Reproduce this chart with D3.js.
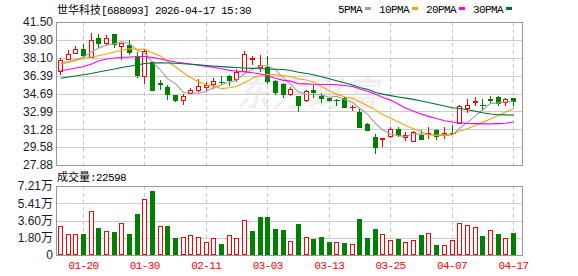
<!DOCTYPE html>
<html><head><meta charset="utf-8">
<script src="https://cdn.jsdelivr.net/npm/d3@7"></script>
<style>body{margin:0;background:#fff}svg{display:block}</style>
</head><body><svg id="c" width="578" height="276"></svg>
<script>
const title1 = "世华科技";
const title2 = "[688093] 2026-04-17 15:30";
const dates = ["01-15","01-16","01-19","01-20","01-21","01-22","01-23","01-26","01-27","01-28","01-29","01-30",
"02-02","02-03","02-04","02-05","02-06","02-09","02-10","02-11","02-12","02-13",
"02-24","02-25","02-26","02-27","03-02","03-03","03-04","03-05","03-06","03-09","03-10","03-11","03-12","03-13",
"03-16","03-17","03-18","03-19","03-20","03-23","03-24","03-25","03-26","03-27","03-30","03-31",
"04-01","04-02","04-03","04-07","04-08","04-09","04-10","04-13","04-14","04-15","04-16","04-17"];
const opens = [36.86,37.95,38.52,38.90,38.14,39.98,39.47,40.36,39.25,39.31,38.26,36.39,37.69,35.70,35.28,34.52,34.07,34.77,35.05,35.30,
35.62,35.82,36.33,36.10,36.86,38.02,37.19,37.19,35.85,35.60,34.67,34.42,34.04,35.05,34.48,34.26,34.10,34.26,33.36,32.90,
31.81,30.55,30.40,30.61,31.34,30.52,30.14,30.77,30.83,31.19,30.74,30.95,31.91,33.31,33.90,33.57,34.12,34.36,33.88,34.26];
const highs = [38.07,38.83,39.21,39.40,40.42,40.36,40.29,40.36,39.53,39.79,38.64,38.96,37.75,36.00,35.53,34.55,34.61,35.21,36.04,35.79,
36.17,36.33,36.48,37.05,38.71,38.23,38.33,38.23,36.00,35.65,35.31,34.45,35.02,35.53,34.74,34.30,34.12,34.33,33.62,33.31,
31.85,30.83,30.45,31.50,31.50,31.00,31.10,31.24,31.47,31.34,31.47,31.66,33.55,34.17,34.33,34.17,34.42,34.48,34.26,34.26];
const lows = [36.55,37.95,38.52,38.26,38.14,39.15,39.28,39.15,37.95,38.42,36.29,35.69,35.05,35.15,34.14,33.98,33.69,34.71,34.93,35.02,
35.21,35.62,35.47,35.85,36.86,37.53,36.80,35.69,34.67,34.33,34.58,32.99,34.02,34.33,33.88,34.00,33.57,33.38,33.12,31.50,
31.20,29.02,29.72,30.52,30.60,30.23,30.14,30.37,30.45,30.39,30.48,30.83,31.91,32.90,33.62,33.15,33.79,33.62,33.62,33.62];
const closes = [37.85,38.45,38.90,38.39,39.76,39.53,39.98,39.45,39.47,38.67,36.48,38.71,35.05,35.64,34.64,34.10,34.42,35.02,35.45,35.50,
35.88,35.79,35.95,36.77,38.45,38.07,37.43,35.91,34.83,34.67,35.12,33.62,34.90,34.80,34.29,34.05,34.08,33.40,33.42,31.50,
31.24,29.60,30.45,31.34,30.71,30.77,31.00,30.39,30.93,30.61,30.90,30.93,33.53,33.62,33.95,33.55,34.10,33.79,34.17,34.00];
const prevClose = 37.20;
const volumes = [30300,21900,21900,21900,46000,28200,25100,24000,33400,21900,43200,58500,66900,30300,30300,17800,18800,20900,18600,13600,
17400,11500,20900,17400,36600,25100,39700,39700,27200,26100,14600,32400,18500,16700,18800,13900,13600,12500,11500,37600,
17800,27200,21900,15700,16700,13600,15700,20900,23000,10400,10100,15700,33400,31300,29300,19900,26100,21900,17800,22598];
const ma5 = [37.60,37.74,37.93,38.14,38.67,39.01,39.31,39.42,39.64,39.42,38.81,38.56,37.68,36.91,36.10,35.63,34.77,34.76,34.73,34.90,
35.25,35.53,35.71,35.98,36.57,37.01,37.33,37.33,36.94,36.18,35.59,34.83,34.63,34.62,34.55,34.33,34.42,34.12,33.85,33.29,
32.73,31.83,31.24,30.83,30.67,30.57,30.85,30.84,30.76,30.74,30.77,30.75,31.38,31.92,32.59,33.12,33.75,33.80,33.91,33.92];
const ma10 = [37.50,37.64,37.83,38.02,38.17,38.29,38.45,38.64,38.79,38.95,38.91,38.93,38.55,38.27,37.76,37.22,36.66,36.22,35.82,35.50,
35.44,35.15,35.24,35.35,35.73,36.13,36.43,36.52,36.46,36.38,36.30,36.08,35.98,35.78,35.36,34.96,34.63,34.38,34.24,33.92,
33.53,33.13,32.68,32.34,31.98,31.65,31.34,31.04,30.79,30.70,30.67,30.80,31.11,31.34,31.66,31.94,32.25,32.59,32.92,33.25];
const ma20 = [36.86,36.98,37.12,37.24,37.50,37.79,37.98,38.07,38.12,38.17,38.21,38.21,38.12,37.98,37.83,37.69,37.60,37.50,37.38,37.27,
37.17,37.04,36.89,36.81,36.75,36.67,36.55,36.37,36.14,35.94,35.87,35.62,35.61,35.57,35.55,35.55,35.53,35.45,35.35,35.15,
34.91,34.61,34.33,34.06,33.67,33.31,32.99,32.71,32.51,32.31,32.10,31.97,31.90,31.84,31.82,31.80,31.80,31.82,31.85,31.98];
const ma30 = [36.14,36.26,36.36,36.48,36.60,36.74,36.88,37.02,37.17,37.28,37.40,37.55,37.60,37.61,37.60,37.57,37.53,37.48,37.42,37.36,
37.30,37.25,37.20,37.16,37.12,37.08,37.05,37.02,37.00,36.97,36.88,36.72,36.59,36.47,36.29,36.10,35.91,35.71,35.50,35.26,
35.09,34.79,34.63,34.49,34.36,34.25,34.13,33.98,33.83,33.67,33.50,33.34,33.26,33.15,33.00,32.85,32.74,32.67,32.65,32.63];
const maNames = ["5PMA","10PMA","20PMA","30PMA"];
const maColors = ["#a0a0a0","#f5a300","#ff00ff","#00703a"];
const priceTicks = [41.50,39.80,38.10,36.39,34.69,32.99,31.28,29.58,27.88];
const volTicks = [0,18000,36000,54100,72100];
const volTickLabels = ["0","1.80万","3.60万","5.41万","7.21万"];
const axisDates = ["01-20","01-30","02-11","03-03","03-13","03-25","04-07","04-17"];
const volLabel = "成交量:22598";

const RED = "#ff0000", GREEN = "#008000";
const CJK = "'Noto Sans CJK SC', sans-serif";
const MONO = "'Liberation Mono', 'DejaVu Sans Mono', monospace";
const L = 56, R = 522;
const svg = d3.select("#c");

const x = d3.scaleBand().domain(dates).range([56.5, 517.3]).padding(0);
const y = d3.scaleLinear().domain([27.88, 41.50]).range([165, 22]);
const yv = d3.scaleLinear().domain([0, 72100]).range([255, 186]);
const cx = i => x(dates[i]) + x.bandwidth() / 2;
const left = i => Math.round(cx(i) - 2.5);
const idx = d3.range(dates.length);

// watermark
svg.append("text").attr("x", 236).attr("y", 106)
  .attr("font-family", CJK).attr("font-size", 34).attr("font-weight", "bold").attr("font-style", "italic")
  .attr("fill", "#000").attr("fill-opacity", 0.07).attr("letter-spacing", 2).text("东方财富");

// horizontal grid
const grid = svg.append("g").attr("shape-rendering", "crispEdges");
grid.selectAll(".hp").data(priceTicks.slice(1, -1)).join("line")
  .attr("x1", L).attr("x2", R).attr("y1", d => Math.round(y(d)) + 0.5).attr("y2", d => Math.round(y(d)) + 0.5)
  .attr("stroke", "#cccccc");
grid.selectAll(".hv").data(volTicks.slice(1, -1)).join("line")
  .attr("x1", L).attr("x2", R).attr("y1", d => Math.round(yv(d)) + 0.5).attr("y2", d => Math.round(yv(d)) + 0.5)
  .attr("stroke", "#cccccc");
// vertical dashed
const vIdx = axisDates.map(d => dates.indexOf(d));
[[22, 165], [186, 255]].forEach(([a, b]) => {
  grid.append("g").selectAll("line").data(vIdx).join("line")
    .attr("x1", i => left(i) + 2.5).attr("x2", i => left(i) + 2.5)
    .attr("y1", a).attr("y2", b)
    .attr("stroke", "#c8c8c8").attr("stroke-dasharray", "4,3");
});

// candles
const cg = svg.append("g").attr("shape-rendering", "crispEdges");
idx.forEach(i => {
  const up = closes[i] > opens[i];
  const col = up ? RED : GREEN;
  const lx = left(i);
  cg.append("line").attr("x1", lx + 2.5).attr("x2", lx + 2.5)
    .attr("y1", Math.round(y(highs[i]))).attr("y2", Math.round(y(lows[i])) + 1).attr("stroke", col);
  const top = Math.round(y(Math.max(opens[i], closes[i])));
  const bot = Math.round(y(Math.min(opens[i], closes[i])));
  if (bot - top < 1) {
    cg.append("line").attr("x1", lx - 0.5).attr("x2", lx + 5.5).attr("y1", top + 0.5).attr("y2", top + 0.5).attr("stroke", col);
  } else if (up) {
    cg.append("rect").attr("x", lx + 0.5).attr("y", top + 0.5).attr("width", 4).attr("height", bot - top)
      .attr("fill", "#fff").attr("stroke", col);
  } else {
    cg.append("rect").attr("x", lx).attr("y", top).attr("width", 5).attr("height", bot - top + 1).attr("fill", col);
  }
});

// MA lines
[ma5, ma10, ma20, ma30].forEach((arr, k) => {
  svg.append("path").datum(arr)
    .attr("d", d3.line().x((d, i) => left(i) + 2.5).y(d => y(d)))
    .attr("fill", "none").attr("stroke", maColors[k]).attr("stroke-width", 1.1);
});

// volume bars
const vg = svg.append("g").attr("shape-rendering", "crispEdges");
idx.forEach(i => {
  const pc = i ? closes[i - 1] : prevClose;
  const up = closes[i] > pc;
  const lx = left(i);
  const top = Math.round(yv(volumes[i]));
  if (up) {
    vg.append("rect").attr("x", lx + 0.5).attr("y", top + 0.5).attr("width", 4).attr("height", 254 - top)
      .attr("fill", "#fff").attr("stroke", RED);
  } else {
    vg.append("rect").attr("x", lx).attr("y", top).attr("width", 5).attr("height", 255 - top).attr("fill", GREEN);
  }
});

// borders
svg.append("rect").attr("x", L + 0.5).attr("y", 22.5).attr("width", R - L).attr("height", 143)
  .attr("fill", "none").attr("stroke", "#999").attr("shape-rendering", "crispEdges");
svg.append("rect").attr("x", L + 0.5).attr("y", 186.5).attr("width", R - L).attr("height", 69)
  .attr("fill", "none").attr("stroke", "#999").attr("shape-rendering", "crispEdges");

// y axes
const ya = svg.append("g").attr("transform", `translate(${L},0)`)
  .call(d3.axisLeft(y).tickValues(priceTicks).tickSize(0).tickPadding(3).tickFormat(d3.format(".2f")));
ya.select(".domain").remove();
ya.selectAll("text").attr("font-family", "'Liberation Sans', Arial, sans-serif").attr("font-size", 12).attr("fill", "#1a1a2e");

const va = svg.append("g").attr("transform", `translate(${L},0)`)
  .call(d3.axisLeft(yv).tickValues(volTicks).tickSize(0).tickPadding(3).tickFormat((d, i) => volTickLabels[i]));
va.select(".domain").remove();
va.selectAll("text").attr("font-family", "'Liberation Sans', " + CJK).attr("font-size", 12).attr("fill", "#1a1a2e");

// x axis
const xa = svg.append("g").attr("transform", "translate(0,255)")
  .call(d3.axisBottom(x).tickValues(axisDates).tickSize(0).tickPadding(6));
xa.select(".domain").remove();
xa.selectAll("text").attr("font-family", MONO).attr("font-size", 11).attr("letter-spacing", -0.6).attr("fill", RED);

// title
const t = svg.append("text").attr("x", 57).attr("y", 14).attr("fill", "#000");
t.append("tspan").attr("font-family", CJK).attr("font-size", 11).text(title1);
t.append("tspan").attr("font-family", MONO).attr("font-size", 11).attr("letter-spacing", -0.6).text(title2);

// volume label
const vl = svg.append("text").attr("x", 57).attr("y", 181).attr("fill", "#000");
vl.append("tspan").attr("font-family", CJK).attr("font-size", 11).text(volLabel.slice(0, 3));
vl.append("tspan").attr("font-family", MONO).attr("font-size", 11).attr("letter-spacing", -0.6).text(volLabel.slice(3));

// legend
let lxp = 338;
maNames.forEach((n, k) => {
  svg.append("text").attr("x", lxp).attr("y", 13).attr("font-family", MONO).attr("font-size", 11)
    .attr("letter-spacing", -0.6).attr("fill", "#000").text(n);
  const w = n.length * 6;
  svg.append("rect").attr("x", lxp + w + 3).attr("y", 7).attr("width", 6).attr("height", 3).attr("fill", maColors[k]);
  lxp += w + 3 + 6 + 8;
});
</script></body></html>
